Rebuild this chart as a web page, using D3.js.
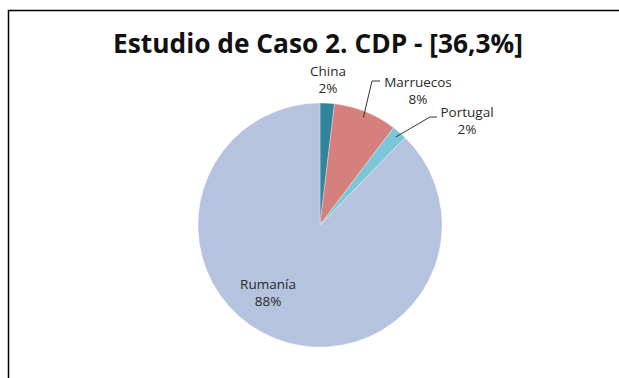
<!DOCTYPE html>
<html>
<head>
<meta charset="utf-8">
<script src="https://cdn.jsdelivr.net/npm/d3@7"></script>
<style>
  body { margin: 0; background: #fff; }
  svg { display: block; }
  .title { font-family: "Open Sans", sans-serif; font-weight: bold; fill: #111; }
  .lbl { font-family: "Open Sans", sans-serif; font-size: 13.5px; fill: #2a2a2a; }
</style>
</head>
<body>
<script>
(function() {

    // data
    var countries = ["China", "Marruecos", "Portugal", "Rumanía"];
    var shares = [1.9, 8.4, 2.0, 87.7];
    var pctLabels = ["2%", "8%", "2%", "88%"];
    var colors = ["#31869c", "#d6807e", "#7cc6d8", "#b5c3de"];

    var width = 619, height = 378;
    var cx = 320, cy = 225, radius = 122;

    var svg = d3.select("body").append("svg")
        .attr("width", width)
        .attr("height", height);

    // chart frame (only top and left edges visible)
    svg.append("path")
        .attr("d", "M8.5,378 V10.5 H619")
        .attr("fill", "none")
        .attr("stroke", "#000")
        .attr("stroke-width", 1.5);

    svg.append("text")
        .attr("class", "title")
        .attr("x", 318)
        .attr("y", 53)
        .attr("text-anchor", "middle")
        .attr("font-size", 26)
        .attr("textLength", 410)
        .attr("lengthAdjust", "spacingAndGlyphs")
        .text("Estudio de Caso 2. CDP - [36,3%]");

    var pie = d3.pie().sort(null).value(function(d) { return d; });
    var arc = d3.arc().innerRadius(0).outerRadius(radius);
    var arcs = pie(shares);

    var g = svg.append("g").attr("transform", "translate(" + cx + "," + cy + ")");

    g.selectAll(".slice")
        .data(arcs)
        .enter()
        .append("path")
        .attr("class", "slice")
        .attr("d", arc)
        .attr("fill", function(d, i) { return colors[i]; })
        .attr("stroke", "#fff")
        .attr("stroke-width", 0.3);

    // label positions relative to center
    var labelPos = [
        { x: 328 - cx, y: 76 - cy },
        { x: 418 - cx, y: 87 - cy },
        { x: 467 - cx, y: 117 - cy },
        { x: 268 - cx, y: 289 - cy }
    ];

    var labels = g.selectAll(".lbl")
        .data(arcs)
        .enter()
        .append("text")
        .attr("class", "lbl")
        .attr("text-anchor", "middle")
        .attr("x", function(d, i) { return labelPos[i].x; })
        .attr("y", function(d, i) { return labelPos[i].y; });

    labels.append("tspan")
        .attr("x", function(d, i) { return labelPos[i].x; })
        .text(function(d, i) { return countries[i]; });
    labels.append("tspan")
        .attr("x", function(d, i) { return labelPos[i].x; })
        .attr("dy", 17)
        .text(function(d, i) { return pctLabels[i]; });

    // leader lines for Marruecos and Portugal
    var outer = d3.arc().innerRadius(radius - 6).outerRadius(radius - 6);
    var leaders = [
        { i: 1, elbow: [372 - cx, 81 - cy], end: [380 - cx, 81 - cy] },
        { i: 2, elbow: [430 - cx, 117 - cy], end: [437 - cx, 117 - cy] }
    ];
    g.selectAll(".leader")
        .data(leaders)
        .enter()
        .append("polyline")
        .attr("class", "leader")
        .attr("fill", "none")
        .attr("stroke", "#333")
        .attr("stroke-width", 1)
        .attr("points", function(d) {
            var p = outer.centroid(arcs[d.i]);
            return [p, d.elbow, d.end].map(function(q) { return q.join(","); }).join(" ");
        });
})();
</script>
</body>
</html>
